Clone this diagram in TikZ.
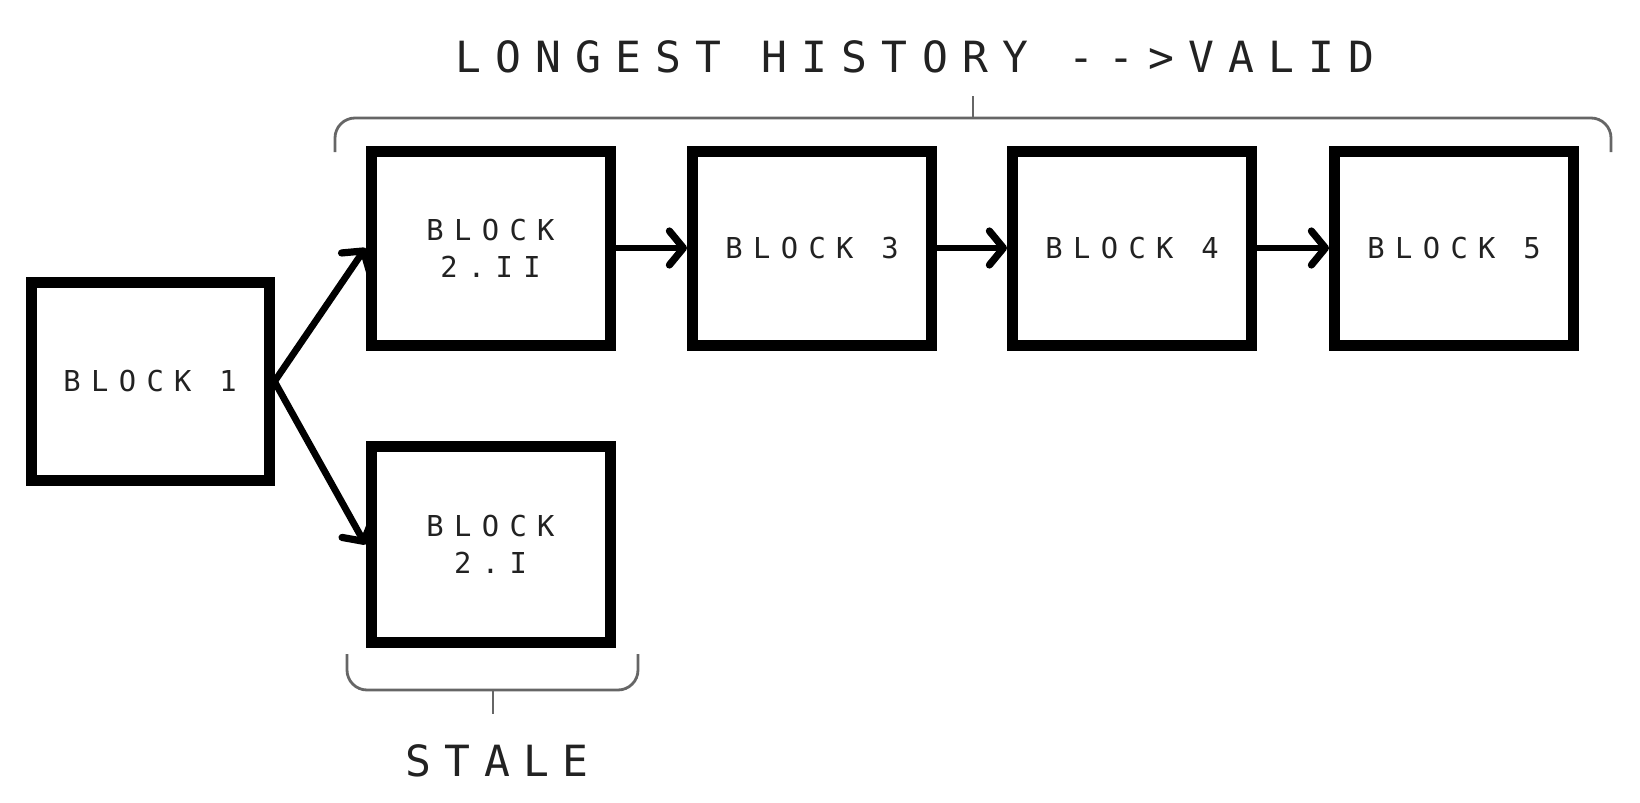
\documentclass[tikz,border=0pt]{standalone}
\usepackage{fontspec}
\usetikzlibrary{arrows.meta}
\newfontfamily\blockfont[LetterSpace=36]{DejaVu Sans Mono}
\newfontfamily\titlefont[LetterSpace=33]{DejaVu Sans Mono}
\newfontfamily\stalefont[LetterSpace=31]{DejaVu Sans Mono}
\definecolor{txt}{HTML}{222222}
\definecolor{brace}{HTML}{666666}
\tikzset{
  blockbox/.style={draw=black, line width=5.5pt, fill=white, rectangle, inner sep=0pt,
    minimum width=119.5pt, minimum height=97pt, align=center, text=txt,
    font=\blockfont\fontsize{14.4pt}{18.5pt}\selectfont},
  link/.style={line width=3.4pt, -{Straight Barb[length=7pt,width=17pt,round,line width=3.6pt]}},
  bracket/.style={draw=brace, line width=1.4pt, rounded corners=10pt},
  bracetick/.style={draw=brace, line width=1.4pt},
  heading/.style={text=txt, inner sep=0pt, font=\titlefont\fontsize{21.5pt}{24pt}\selectfont}
}
\begin{document}
\begin{tikzpicture}[x=0.5pt,y=-0.5pt]
\useasboundingbox (0,0) rectangle (1640,803);
\fill[white] (0,0) rectangle (1640,803);

\node[blockbox, minimum width=119pt, minimum height=99pt] (b1) at (150,381.5) {BLOCK 1};
\node[blockbox] (b2ii) at (490.5,248) {BLOCK\\2.II};
\node[blockbox] (b3) at (812,248) {BLOCK 3};
\node[blockbox] (b4) at (1132,248) {BLOCK 4};
\node[blockbox] (b5) at (1454,248) {BLOCK 5};
\node[blockbox, minimum height=98pt] (b2i) at (490.5,544.5) {BLOCK\\2.I};

\draw[link] (b1.east) -- (b2ii.west);
\draw[link] (b1.east) -- (b2i.west);
\draw[link] (b2ii.east) -- (b3.west);
\draw[link] (b3.east) -- (b4.west);
\draw[link] (b4.east) -- (b5.west);

% top bracket
\coordinate (tl) at (335,152);
\coordinate (tr) at (1611,152);
\coordinate (tm) at (973,118);
\coordinate (tt) at (973,96);
\draw[bracket] (tl) -- (335,118) -- (1611,118) -- (tr);
\draw[bracetick] (tm) -- (tt);
\node[heading] (title) at (915,57) {LONGEST HISTORY -->VALID};

% bottom bracket
\coordinate (bl) at (347,654);
\coordinate (br) at (638,654);
\coordinate (bm) at (493,690);
\coordinate (bt) at (493,714);
\draw[bracket] (bl) -- (347,690) -- (638,690) -- (br);
\draw[bracetick] (bm) -- (bt);
\node[heading, font=\stalefont\fontsize{21.5pt}{24pt}\selectfont] (stale) at (497,761) {STALE};
\end{tikzpicture}
\end{document}
